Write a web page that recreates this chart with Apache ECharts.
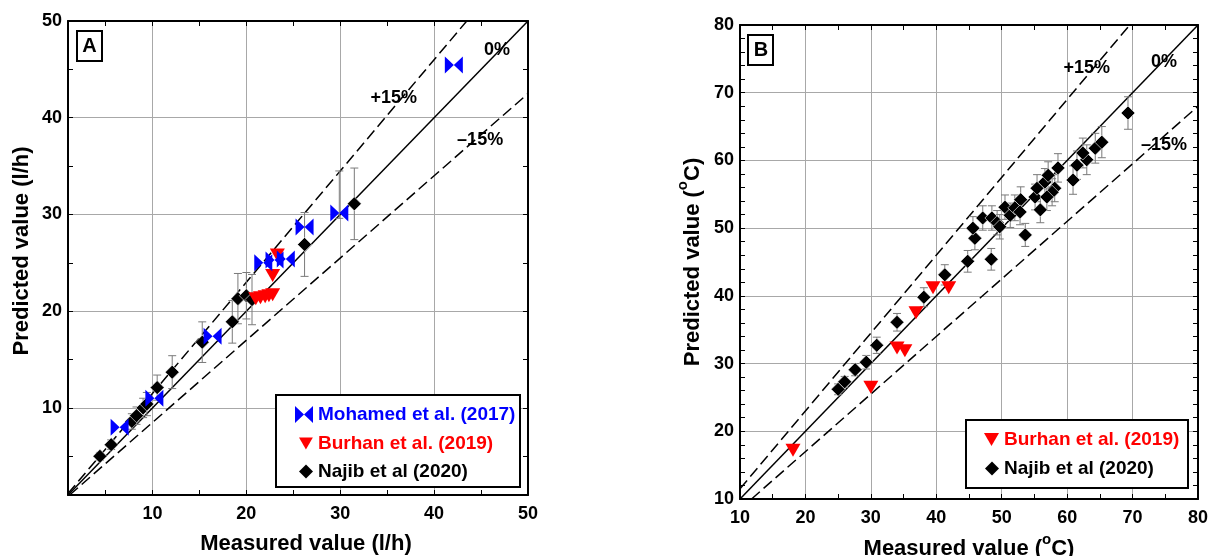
<!DOCTYPE html>
<html><head><meta charset="utf-8">
<script src="https://cdn.jsdelivr.net/npm/echarts@6/dist/echarts.min.js"></script>
<style>html,body{margin:0;padding:0;background:#fff}#c{width:1213px;height:556px}</style>
</head><body><div id="c"></div>
<script>
// ---------- tick / label values ----------
const ticksA = [5,10,15,20,25,30,35,40,45];
const labelsA = [10,20,30,40,50];
const gridValsA = [10,20,30,40];
const ticksBx = [15,20,25,30,35,40,45,50,55,60,65,70,75];
const ticksBy = [12,14,16,18,20,22,24,26,28,30,32,34,36,38,40,42,44,46,48,50,52,54,56,58,60,62,64,66,68,70,72,74,76,78];
const labelsB = [10,20,30,40,50,60,70,80];
const gridValsB = [20,30,40,50,60,70];

// ---------- panel A data (measured, predicted) ----------
const mohamedA = [[42.1,45.45],[29.9,30.15],[26.2,28.7],[21.8,25.0],[23.0,25.3],[24.2,25.4],[16.4,17.4],[10.2,11.0],[6.5,8.0]];
const burhanA = [[23.3,25.8],[22.8,23.7],[21.0,21.3],[21.5,21.4],[22.0,21.5],[22.4,21.6],[22.8,21.7]];
const najibA = [[4.4,5.0],[5.6,6.2],[7.8,8.6],[8.3,9.2],[9.0,10.0],[9.4,10.4],[10.5,12.1],[12.1,13.7],[15.3,16.8],[18.5,18.9],[19.1,21.3],[20.0,21.6],[20.6,21.2],[26.2,26.9],[31.5,31.1]];
const najibAErr = [0.4,0.5,0.8,0.9,1.0,1.2,1.3,1.7,2.1,2.2,2.6,2.4,2.6,3.3,3.7];
const extraErrA = [[29.9,29.6,34.5]];

// ---------- panel B data ----------
const burhanB = [[18.1,17.2],[30.0,26.5],[34.0,32.3],[35.2,31.9],[36.9,37.5],[39.5,41.2],[41.9,41.2]];
const najibB = [[25.0,26.2],[26.0,27.3],[27.6,29.1],[29.3,30.2],[30.9,32.7],[34.0,36.1],[38.1,39.8],[41.3,43.1],[44.8,45.1],[48.4,45.4],[45.9,48.5],[45.6,50.0],[53.6,49.0],[47.1,51.5],[48.5,51.5],[49.3,50.8],[49.7,50.2],[50.5,53.1],[51.3,51.9],[52.0,53.0],[52.9,54.2],[52.8,52.4],[55.1,54.6],[55.9,52.7],[55.4,55.9],[56.6,56.8],[57.1,57.8],[58.1,55.9],[57.7,55.3],[56.9,54.6],[58.6,58.9],[60.9,57.1],[61.5,59.3],[63.0,60.1],[62.4,61.1],[64.3,61.8],[65.3,62.7],[69.3,67.0]];
const najibBErr = [0.8,0.8,0.9,1.0,1.2,1.3,1.4,1.5,1.6,1.6,1.7,1.7,1.7,1.8,1.8,1.8,1.8,1.8,1.8,1.9,1.9,1.9,1.9,1.9,2.0,2.0,2.0,2.0,2.0,2.0,2.1,2.1,2.1,2.2,2.2,2.2,2.3,2.4];

// ---------- deviation bands ----------
const bandRatios = [1, 1.15, 0.85];
const bandLabels = ['0%', '+15%', '\u201315%'];
const bandLabelPosA = [[46.7,47.0],[35.7,42.0],[44.9,37.7]];
const bandLabelPosB = [[74.8,74.5],[63.0,73.7],[74.8,62.3]];

// ---------- styles ----------
const FONT = 'Liberation Sans, Arial, sans-serif';
const BOWTIE = 'path://M0,0L9,8.5L0,17ZM18,0L9,8.5L18,17Z';
const TRI = 'path://M0,0L15,0L7.5,13Z';
const BLUE = '#0000ff', RED = '#ff0000';
const TICKCOLOR = '#000';
const TICKLEN = 5;

function diag(k, mn, mx) {
  const x0 = Math.max(mn, mn / k), x1 = Math.min(mx, mx / k);
  return [[x0, k * x0], [x1, k * x1]];
}
function errData(pts, errs) { return pts.map((p, i) => [p[0], p[1] - errs[i], p[1] + errs[i]]); }

function axes(gi, mn, mx, ticks, labels, gridVals, isX, nameCfg) {
  const main = {
    gridIndex: gi, type: 'value', min: mn, max: mx,
    position: isX ? 'bottom' : 'left',
    axisLine: { show: true, onZero: false, lineStyle: { color: '#000', width: 2 } },
    axisTick: { show: true, inside: true, length: TICKLEN, customValues: ticks, lineStyle: { color: TICKCOLOR, width: 1 } },
    axisLabel: { show: true, customValues: labels, margin: isX ? 10 : 6, color: '#000', fontSize: 18, fontWeight: 'bold', fontFamily: FONT },
    splitLine: { show: false }
  };
  Object.assign(main, nameCfg);
  const opp = {
    gridIndex: gi, type: 'value', min: mn, max: mx,
    position: isX ? 'top' : 'right',
    axisLine: { show: true, onZero: false, lineStyle: { color: '#000', width: 2 } },
    axisTick: { show: true, inside: true, length: TICKLEN, customValues: ticks, lineStyle: { color: TICKCOLOR, width: 1 } },
    axisLabel: { show: false }, splitLine: { show: false }
  };
  const grid = {
    gridIndex: gi, type: 'value', min: mn, max: mx,
    position: isX ? 'bottom' : 'left',
    axisLine: { show: false }, axisTick: { show: false, customValues: gridVals },
    axisLabel: { show: false },
    splitLine: { show: true, lineStyle: { color: '#a8a8a8', width: 1 } }
  };
  return [main, opp, grid];
}

const nameStyle = { fontSize: 22, fontWeight: 'bold', color: '#000', fontFamily: FONT,
  rich: { sup: { fontSize: 15, fontWeight: 'bold', fontFamily: FONT, color: '#000', padding: [0, 0, 20, 0] } } };

const xAxes = [].concat(
  axes(0, 1, 50, ticksA, labelsA, gridValsA, true, { name: 'Measured value (l/h)', nameLocation: 'middle', nameGap: 38, nameTextStyle: Object.assign({}, nameStyle, { padding: [0, 0, 0, 16] }) }),
  axes(1, 10, 80, ticksBx, labelsB, gridValsB, true, { name: 'Measured value ({sup|o}C)', nameLocation: 'middle', nameGap: 27, nameTextStyle: nameStyle })
);
const yAxes = [].concat(
  axes(0, 1, 50, ticksA, labelsA, gridValsA, false, { name: 'Predicted value (l/h)', nameLocation: 'middle', nameGap: 35, nameTextStyle: Object.assign({}, nameStyle, { padding: [0, 0, 0, 14] }) }),
  axes(1, 10, 80, ticksBy, labelsB, gridValsB, false, { name: 'Predicted value ({sup|o}C)', nameLocation: 'middle', nameGap: 30, nameTextStyle: nameStyle })
);

function errRender(params, api) {
  const x = api.value(0), lo = api.value(1), hi = api.value(2);
  const a = api.coord([x, hi]), b = api.coord([x, lo]);
  const w = 4, st = { stroke: '#7a7a7a', lineWidth: 1 };
  return { type: 'group', children: [
    { type: 'line', shape: { x1: a[0], y1: a[1], x2: b[0], y2: b[1] }, style: st },
    { type: 'line', shape: { x1: a[0] - w, y1: a[1], x2: a[0] + w, y2: a[1] }, style: st },
    { type: 'line', shape: { x1: b[0] - w, y1: b[1], x2: b[0] + w, y2: b[1] }, style: st }
  ] };
}

function panelSeries(xi, yi, mn, mx, labelPos, groups, errs) {
  const s = [];
  bandRatios.forEach((k, i) => {
    s.push({ type: 'line', xAxisIndex: xi, yAxisIndex: yi, data: diag(k, mn, mx), symbol: 'none', silent: true, clip: true, z: 1,
      lineStyle: { color: '#000', width: 1.5, type: i === 0 ? 'solid' : [11, 5] } });
  });
  s.push({ type: 'scatter', xAxisIndex: xi, yAxisIndex: yi, silent: true, symbol: 'circle', symbolSize: 1, z: 5,
    itemStyle: { color: 'rgba(0,0,0,0)', opacity: 1 },
    label: { show: true, position: 'inside', formatter: p => p.name, color: '#000', fontSize: 18, fontWeight: 'bold', fontFamily: FONT },
    data: labelPos.map((p, i) => ({ name: bandLabels[i], value: p })) });
  s.push({ type: 'custom', xAxisIndex: xi, yAxisIndex: yi, renderItem: errRender, data: errs, z: 2, silent: true, clip: true,
    encode: { x: 0, y: [1, 2] } });
  groups.forEach(g => s.push(Object.assign({ type: 'scatter', xAxisIndex: xi, yAxisIndex: yi, z: 3, silent: true }, g)));
  return s;
}

const mohamedStyle = { name: 'Mohamed et al. (2017)', symbol: BOWTIE, symbolSize: [18, 17], itemStyle: { color: BLUE, opacity: 1 } };
const burhanStyle = { name: 'Burhan et al. (2019)', symbol: TRI, symbolSize: [15, 13], itemStyle: { color: RED, opacity: 1 } };
const najibStyle = { name: 'Najib et al (2020)', symbol: 'diamond', symbolSize: 14, itemStyle: { color: '#000', borderColor: '#fff', borderWidth: 0.6, opacity: 1 } };

const series = [].concat(
  panelSeries(0, 0, 1, 50, bandLabelPosA, [
    Object.assign({ data: najibA }, najibStyle),
    Object.assign({ data: burhanA }, burhanStyle),
    Object.assign({ data: mohamedA }, mohamedStyle)
  ], errData(najibA, najibAErr).concat(extraErrA)),
  panelSeries(3, 3, 10, 80, bandLabelPosB, [
    Object.assign({ data: najibB }, najibStyle),
    Object.assign({ data: burhanB }, burhanStyle)
  ], errData(najibB, najibBErr))
);

function leg(name, icon, w, h, left, top, color) {
  return { left: left, top: top, padding: 0, orient: 'vertical', itemWidth: w, itemHeight: h, selectedMode: false, z: 20,
    data: [{ name: name, icon: icon, itemStyle: { color: color, borderWidth: 0, opacity: 1 }, textStyle: { color: color } }],
    textStyle: { fontSize: 19, fontWeight: 'bold', fontFamily: FONT, color: color } };
}

const legends = [
  leg('Mohamed et al. (2017)', BOWTIE, 18, 17, 295, 405, BLUE),
  leg('Burhan et al. (2019)', TRI, 14, 12, 299, 434, RED),
  leg('Najib et al (2020)', 'diamond', 14, 14, 299, 462, '#000'),
  leg('Burhan et al. (2019)', TRI, 15, 13, 984, 430, RED),
  leg('Najib et al (2020)', 'diamond', 14, 14, 985, 459, '#000')
];

const graphics = [
  { type: 'rect', shape: { x: 276, y: 395, width: 244, height: 92 }, style: { fill: '#fff', stroke: '#000', lineWidth: 2 }, z: 10 },
  { type: 'rect', shape: { x: 966, y: 420, width: 222, height: 68 }, style: { fill: '#fff', stroke: '#000', lineWidth: 2 }, z: 10 },
  { type: 'rect', shape: { x: 77, y: 31, width: 25, height: 30 }, style: { fill: '#fff', stroke: '#000', lineWidth: 2 }, z: 10 },
  { type: 'text', x: 89.5, y: 46, style: { text: 'A', align: 'center', verticalAlign: 'middle', font: 'bold 20px ' + FONT, fill: '#000' }, z: 11 },
  { type: 'rect', shape: { x: 748, y: 35, width: 25, height: 30 }, style: { fill: '#fff', stroke: '#000', lineWidth: 2 }, z: 10 },
  { type: 'text', x: 761, y: 50, style: { text: 'B', align: 'center', verticalAlign: 'middle', font: 'bold 20px ' + FONT, fill: '#000' }, z: 11 }
];

const chart = echarts.init(document.getElementById('c'));
chart.setOption({
  animation: false,
  backgroundColor: '#fff',
  grid: [
    { left: 68, top: 21, width: 460, height: 474, containLabel: false, outerBoundsMode: 'none' },
    { left: 740, top: 25, width: 458, height: 474, containLabel: false, outerBoundsMode: 'none' }
  ],
  xAxis: xAxes,
  yAxis: yAxes,
  legend: legends,
  graphic: { elements: graphics },
  series: series
});
</script></body></html>
